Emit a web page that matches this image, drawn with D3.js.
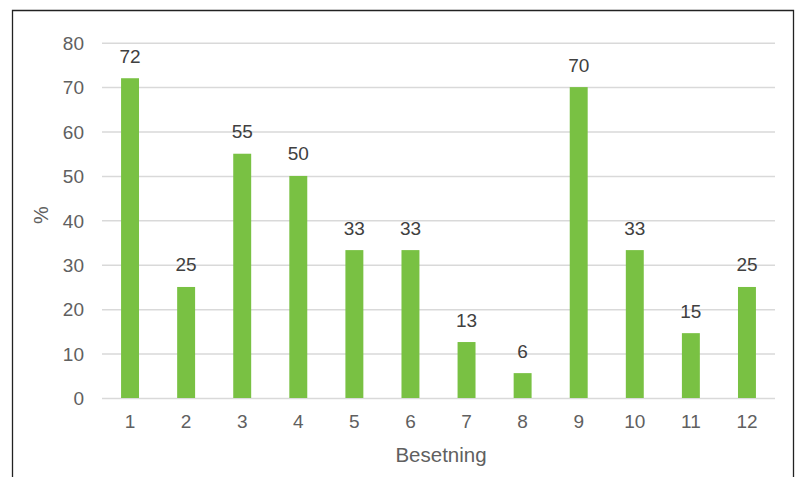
<!DOCTYPE html>
<html><head><meta charset="utf-8">
<script src="https://cdn.jsdelivr.net/npm/d3@7"></script>
<style>body{margin:0;background:#fff}text{font-family:"Liberation Sans",Arial,sans-serif}</style>
</head><body>
<svg id="c" width="797" height="477"></svg>
<script>
const categories = ["1","2","3","4","5","6","7","8","9","10","11","12"];
const values = [72, 25, 55, 50, 33.3, 33.3, 12.6, 5.6, 70, 33.3, 14.6, 25];
const valueLabels = ["72","25","55","50","33","33","13","6","70","33","15","25"];
const yTicks = [0,10,20,30,40,50,60,70,80];
const xTitle = "Besetning";
const yTitle = "%";

const svg = d3.select("#c");
const m = {left:102, right:775, top:42.7, bottom:398};
svg.append("path").attr("d","M12.5,477 L12.5,10.5 L793.5,10.5 L793.5,477")
  .attr("fill","none").attr("stroke","#222").attr("stroke-width",1.3);

const x = d3.scaleBand().domain(categories).range([m.left,m.right]).paddingInner(0.68).paddingOuter(0.34);
const y = d3.scaleLinear().domain([0,80]).range([m.bottom,m.top]);

const ya = svg.append("g").attr("transform",`translate(${m.left},0)`)
  .call(d3.axisLeft(y).tickValues(yTicks).tickSize(-(m.right-m.left)).tickPadding(18));
ya.select(".domain").remove();
ya.selectAll("line").attr("stroke","#d9d9d9").attr("stroke-width",1.5);
ya.selectAll("text").attr("fill","#606060").attr("font-size",19).attr("dy","0.35em");

svg.append("g").selectAll("rect").data(values).join("rect")
  .attr("x",(d,i)=>x(categories[i])).attr("width",x.bandwidth())
  .attr("y",d=>y(d)).attr("height",d=>y(0)-y(d))
  .attr("fill","#79c143");

svg.append("g").selectAll("text").data(values).join("text")
  .attr("x",(d,i)=>x(categories[i])+x.bandwidth()/2)
  .attr("y",d=>y(d)-15.5).attr("text-anchor","middle")
  .attr("fill","#404040").attr("font-size",19)
  .text((d,i)=>valueLabels[i]);

const xa = svg.append("g").attr("transform",`translate(0,${m.bottom})`)
  .call(d3.axisBottom(x).tickSize(0).tickPadding(17));
xa.select(".domain").remove();
xa.selectAll("text").attr("fill","#606060").attr("font-size",19).attr("dy","0.71em");

svg.append("text").attr("x",441).attr("y",462).attr("text-anchor","middle")
  .attr("fill","#606060").attr("font-size",20.5).text(xTitle);
svg.append("text").attr("transform","translate(48,215) rotate(-90)").attr("text-anchor","middle")
  .attr("fill","#606060").attr("font-size",20).text(yTitle);
</script>
</body></html>
